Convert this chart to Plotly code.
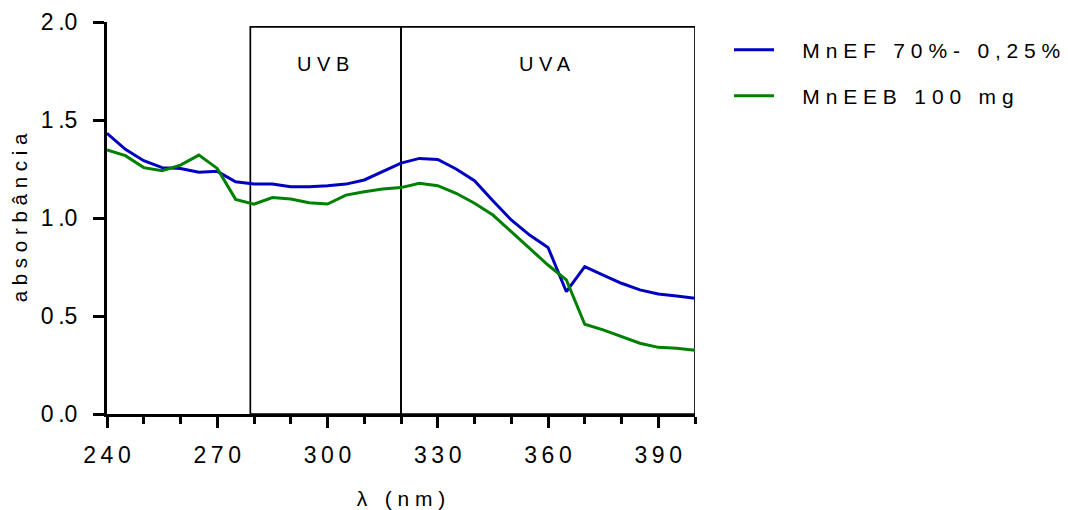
import plotly.graph_objects as go

# wavelength grid (nm)
wavelength = list(range(240, 401, 5))

# absorbance spectra
mnef_70 = [1.432, 1.350, 1.292, 1.257, 1.252, 1.233, 1.238, 1.185, 1.173, 1.173,
           1.160, 1.160, 1.165, 1.173, 1.194, 1.236, 1.280, 1.304, 1.299, 1.250,
           1.190, 1.088, 0.990, 0.913, 0.850, 0.624, 0.752, 0.709, 0.667, 0.633,
           0.612, 0.602, 0.590]
mneeb_100 = [1.347, 1.318, 1.257, 1.241, 1.270, 1.321, 1.253, 1.095, 1.071, 1.104,
             1.097, 1.078, 1.071, 1.117, 1.134, 1.148, 1.155, 1.177, 1.165, 1.126,
             1.075, 1.015, 0.930, 0.845, 0.760, 0.684, 0.458, 0.429, 0.395, 0.361,
             0.340, 0.335, 0.325]

series_names = ["MnEF 70%- 0,25%", "MnEEB 100 mg"]
series_colors = ["#0000C0", "#008000"]

x_ticks = [240, 270, 300, 330, 360, 390]
y_ticks = [0.0, 0.5, 1.0, 1.5, 2.0]

# UV bands (nm) and their labels
bands = [("UVB", 279, 320), ("UVA", 320, 400)]
band_top = 1.975

THIN = "\u2009"
NBSP = "\u00a0"


def spaced(s, gap=" "):
    """Widen the letter spacing by putting a gap between characters."""
    return gap.join(s)


FONT = "Liberation Sans, Arial, sans-serif"
W, H = 1068, 510

fig = go.Figure()
for i, (name, ys, col) in enumerate(zip(series_names, [mnef_70, mneeb_100], series_colors)):
    fig.add_trace(go.Scatter(
        x=wavelength, y=ys, mode="lines", name=NBSP * 4 + spaced(name),
        line=dict(color=col, width=3), showlegend=True,
        legend="legend" if i == 0 else "legend2",
    ))

for label, x0, x1 in bands:
    fig.add_shape(type="rect", xref="x", yref="y", x0=x0, x1=x1, y0=0, y1=band_top,
                  line=dict(color="black", width=1.7), fillcolor="rgba(0,0,0,0)",
                  layer="below")
    fig.add_annotation(x=(x0 + x1) / 2 - 0.8, y=1.785, xref="x", yref="y", text=spaced(label),
                       showarrow=False, font=dict(size=20, color="black", family=FONT))

legend_common = dict(
    xref="container", yref="container",
    xanchor="left", yanchor="middle", bgcolor="rgba(0,0,0,0)",
    font=dict(size=21, color="black", family=FONT), itemwidth=40,
)

fig.update_layout(
    width=W, height=H,
    margin=dict(l=107, r=373, t=22, b=96, autoexpand=False),
    plot_bgcolor="white", paper_bgcolor="white",
    showlegend=True,
    font=dict(family=FONT, color="black"),
    legend=dict(x=729 / W, y=1 - 50 / H, **legend_common),
    legend2=dict(x=729 / W, y=1 - 96 / H, **legend_common),
    xaxis=dict(
        range=[240, 400], showline=True, linecolor="black", linewidth=3,
        showgrid=False, zeroline=False, automargin=False,
        tickmode="array", tickvals=x_ticks, ticktext=[spaced(str(v), THIN) for v in x_ticks],
        ticks="outside", ticklen=11, tickwidth=3, tickcolor="black",
        ticklabelstandoff=7,
        tickfont=dict(size=23, color="black", family=FONT),
        minor=dict(dtick=10, tick0=240, ticks="outside", ticklen=7, tickwidth=3,
                   tickcolor="black", showgrid=False),
        title=dict(text=spaced("λ (nm)"), font=dict(size=21, color="black", family=FONT),
                   standoff=25),
    ),
    yaxis=dict(
        range=[0, 2.0], showline=True, linecolor="black", linewidth=3,
        showgrid=False, zeroline=False, automargin=False,
        tickmode="array", tickvals=y_ticks,
        ticktext=[f"{v:.1f}".replace(".", THIN + ".") for v in y_ticks],
        ticks="outside", ticklen=11, tickwidth=3, tickcolor="black",
        ticklabelstandoff=11,
        tickfont=dict(size=23, color="black", family=FONT),
        title=dict(text=spaced("absorbância"), font=dict(size=20.5, color="black", family=FONT),
                   standoff=8),
    ),
)

fig.write_html("out.html")
